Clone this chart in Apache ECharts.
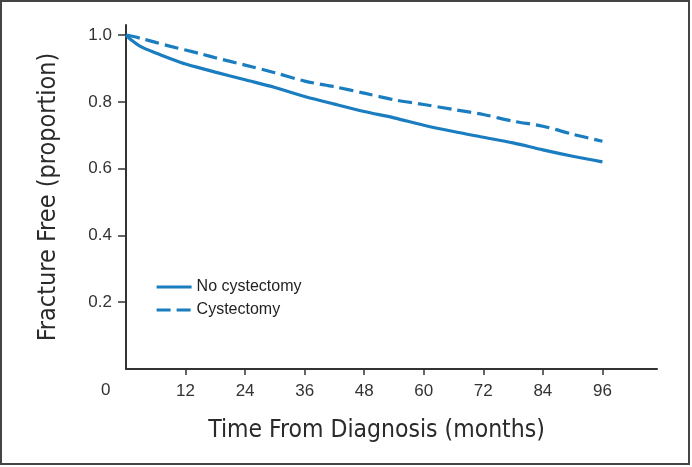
<!DOCTYPE html>
<html>
<head>
<meta charset="utf-8">
<script src="https://cdn.jsdelivr.net/npm/echarts@6/dist/echarts.min.js"></script>
<style>html,body{margin:0;padding:0;background:#fff}#c{width:692px;height:467px}</style>
</head>
<body>
<div id="c"></div>
<script>
var months = [0, 1, 3, 6, 9, 12, 15, 18, 24, 30, 36, 42, 48, 54, 60, 66, 72, 78, 84, 90, 96];
var noCystectomy = [1.0, 0.986, 0.965, 0.946, 0.929, 0.913, 0.901, 0.889, 0.866, 0.843, 0.816, 0.793, 0.771, 0.752, 0.730, 0.711, 0.694, 0.677, 0.656, 0.637, 0.620];
var cystectomy = [1.0, 0.997, 0.990, 0.978, 0.966, 0.955, 0.944, 0.932, 0.910, 0.887, 0.862, 0.845, 0.826, 0.806, 0.792, 0.777, 0.762, 0.742, 0.727, 0.703, 0.682];
var xTicks = [12, 24, 36, 48, 60, 72, 84, 96];
var yTicks = [0.2, 0.4, 0.6, 0.8, 1.0];
var seriesNames = ['No cystectomy', 'Cystectomy'];

function pairs(xs, ys) { return xs.map(function (x, i) { return [x, ys[i]]; }); }

var blue = '#1a7dc0';
var axisColor = '#333';
var dash = [14, 6];
var titleFont = "'DejaVu Sans Condensed', 'DejaVu Sans'";
var chart = echarts.init(document.getElementById('c'), null, {renderer: 'canvas'});
chart.setOption({
  animation: false,
  backgroundColor: '#fff',
  grid: {left: 126, right: 35, top: 25, bottom: 98},
  xAxis: {
    type: 'value', min: 0, max: 107, interval: 12,
    name: 'Time From Diagnosis (months)', nameLocation: 'middle', nameGap: 49,
    nameTextStyle: {fontFamily: titleFont, fontWeight: 'condensed', fontSize: 24.5, color: '#2a2a2a', padding: [0, 30, 0, 0]},
    axisLine: {show: true, lineStyle: {color: axisColor, width: 2}},
    axisTick: {show: true, inside: false, length: 6, lineStyle: {color: axisColor, width: 1.5}, customValues: xTicks},
    axisLabel: {customValues: xTicks, fontFamily: 'Liberation Sans, Arial', fontSize: 17, color: '#333', margin: 14},
    splitLine: {show: false}
  },
  yAxis: {
    type: 'value', min: 0, max: 1.03, interval: 0.2,
    name: 'Fracture Free (proportion)', nameLocation: 'middle', nameGap: 65, nameRotate: 90,
    nameTextStyle: {fontFamily: titleFont, fontWeight: 'condensed', fontSize: 25, color: '#2a2a2a'},
    axisLine: {show: true, lineStyle: {color: axisColor, width: 2}},
    axisTick: {show: true, length: 8, lineStyle: {color: axisColor, width: 1.5}, customValues: yTicks},
    axisLabel: {customValues: yTicks, fontFamily: 'Liberation Sans, Arial', fontSize: 17, color: '#333', margin: 14,
      formatter: function (v) { return v.toFixed(1); }},
    splitLine: {show: false}
  },
  legend: {
    orient: 'vertical', left: 155, top: 279, padding: 0, itemWidth: 35, itemHeight: 14, itemGap: 7,
    textStyle: {fontFamily: 'Liberation Sans, Arial', fontSize: 16, color: '#222'},
    itemStyle: {opacity: 0},
    data: [
      {name: seriesNames[0], lineStyle: {color: blue, width: 3.2}},
      {name: seriesNames[1], lineStyle: {color: blue, width: 3.2, type: dash}}
    ]
  },
  graphic: [
    {type: 'text', left: 101, top: 382, style: {text: '0', fontFamily: 'Liberation Sans, Arial', fontSize: 17, fill: '#333'}},
    {type: 'rect', shape: {x: 1, y: 1, width: 688, height: 463}, style: {fill: 'none', stroke: '#444', lineWidth: 2}, silent: true}
  ],
  series: [
    {name: seriesNames[0], type: 'line', data: pairs(months, noCystectomy), showSymbol: false, symbol: 'none', smooth: 0.3,
      lineStyle: {color: blue, width: 3.2}, itemStyle: {color: blue}},
    {name: seriesNames[1], type: 'line', data: pairs(months, cystectomy), showSymbol: false, symbol: 'none', smooth: 0.3,
      lineStyle: {color: blue, width: 3.2, type: dash}, itemStyle: {color: blue}}
  ]
});
</script>
</body>
</html>
